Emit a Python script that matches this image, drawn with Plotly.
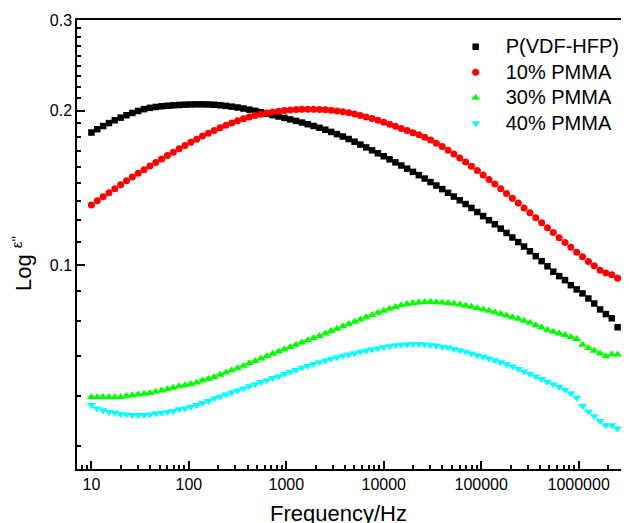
import math
import plotly.graph_objects as go

freq = [10, 11.48, 13.18, 15.14, 17.38, 19.95, 22.91, 26.30, 30.20, 34.67,
        39.81, 45.71, 52.48, 60.26, 69.18, 79.43, 91.20, 104.7, 120.2, 138.0,
        158.5, 182.0, 208.9, 239.9, 275.4, 316.2, 363.1, 416.9, 478.6, 549.5,
        631.0, 724.4, 831.8, 955.0, 1096, 1259, 1445, 1660, 1905, 2188,
        2512, 2884, 3311, 3802, 4365, 5012, 5754, 6607, 7586, 8710,
        10000, 11480, 13180, 15140, 17380, 19950, 22910, 26300, 30200, 34670,
        39810, 45710, 52480, 60260, 69180, 79430, 91200, 104700, 120200, 138000,
        158500, 182000, 208900, 239900, 275400, 316200, 363100, 416900, 478600, 549500,
        631000, 724400, 831800, 955000, 1096000, 1259000, 1445000, 1660000, 1905000, 2188000,
        2512000]

eps_pvdf = [0.1812, 0.1839, 0.1865, 0.1890, 0.1914, 0.1937, 0.1958, 0.1978, 0.1996, 0.2012,
            0.2024, 0.2032, 0.2038, 0.2043, 0.2047, 0.2050, 0.2053, 0.2055, 0.2056, 0.2056,
            0.2055, 0.2052, 0.2048, 0.2042, 0.2035, 0.2027, 0.2018, 0.2008, 0.1997, 0.1985,
            0.1972, 0.1959, 0.1947, 0.1935, 0.1922, 0.1909, 0.1895, 0.1881, 0.1866, 0.1851,
            0.1835, 0.1817, 0.1799, 0.1780, 0.1760, 0.1739, 0.1717, 0.1695, 0.1673, 0.1651,
            0.1629, 0.1607, 0.1585, 0.1563, 0.1541, 0.1519, 0.1497, 0.1474, 0.1451, 0.1429,
            0.1406, 0.1383, 0.1360, 0.1337, 0.1315, 0.1292, 0.1269, 0.1246, 0.1223, 0.1201,
            0.1178, 0.1155, 0.1132, 0.1109, 0.1087, 0.1064, 0.1041, 0.1018, 0.0995, 0.0971,
            0.0952, 0.0935, 0.0914, 0.0897, 0.0881, 0.0861, 0.0842, 0.0820, 0.0803, 0.0788,
            0.0757]

eps_10 = [0.1309, 0.1334, 0.1359, 0.1384, 0.1409, 0.1434, 0.1459, 0.1484, 0.1509, 0.1534,
          0.1559, 0.1584, 0.1609, 0.1634, 0.1659, 0.1684, 0.1709, 0.1734, 0.1759, 0.1783,
          0.1806, 0.1829, 0.1851, 0.1872, 0.1892, 0.1910, 0.1927, 0.1942, 0.1955, 0.1967,
          0.1977, 0.1986, 0.1994, 0.2000, 0.2005, 0.2009, 0.2011, 0.2012, 0.2012, 0.2010,
          0.2007, 0.2002, 0.1996, 0.1988, 0.1979, 0.1968, 0.1956, 0.1943, 0.1929, 0.1914,
          0.1898, 0.1881, 0.1863, 0.1845, 0.1828, 0.1811, 0.1794, 0.1774, 0.1752, 0.1727,
          0.1701, 0.1673, 0.1645, 0.1617, 0.1588, 0.1558, 0.1528, 0.1498, 0.1468, 0.1438,
          0.1408, 0.1379, 0.1350, 0.1321, 0.1292, 0.1264, 0.1237, 0.1209, 0.1183, 0.1157,
          0.1131, 0.1107, 0.1083, 0.1060, 0.1038, 0.1017, 0.0997, 0.0977, 0.0965, 0.0958,
          0.0943]

eps_30 = [0.0553, 0.0554, 0.0554, 0.0553, 0.0553, 0.0554, 0.0556, 0.0558, 0.0560, 0.0562,
          0.0564, 0.0567, 0.0570, 0.0573, 0.0577, 0.0581, 0.0584, 0.0587, 0.0591, 0.0596,
          0.0601, 0.0606, 0.0612, 0.0618, 0.0624, 0.0630, 0.0637, 0.0644, 0.0651, 0.0658,
          0.0665, 0.0672, 0.0679, 0.0686, 0.0693, 0.0700, 0.0707, 0.0714, 0.0721, 0.0728,
          0.0736, 0.0744, 0.0752, 0.0760, 0.0768, 0.0776, 0.0784, 0.0792, 0.0800, 0.0808,
          0.0815, 0.0822, 0.0829, 0.0835, 0.0840, 0.0844, 0.0846, 0.0848, 0.0848, 0.0847,
          0.0846, 0.0844, 0.0841, 0.0838, 0.0834, 0.0830, 0.0825, 0.0820, 0.0815, 0.0810,
          0.0804, 0.0798, 0.0792, 0.0786, 0.0779, 0.0772, 0.0764, 0.0756, 0.0748, 0.0742,
          0.0736, 0.0731, 0.0725, 0.0718, 0.0700, 0.0690, 0.0681, 0.0673, 0.0665, 0.0671,
          0.0670]

eps_40 = [0.0534, 0.0526, 0.0522, 0.0518, 0.0516, 0.0513, 0.0512, 0.0511, 0.0511, 0.0511,
          0.0512, 0.0514, 0.0516, 0.0518, 0.0520, 0.0524, 0.0526, 0.0530, 0.0534, 0.0539,
          0.0544, 0.0550, 0.0555, 0.0560, 0.0565, 0.0570, 0.0575, 0.0581, 0.0586, 0.0592,
          0.0597, 0.0603, 0.0608, 0.0614, 0.0620, 0.0625, 0.0631, 0.0636, 0.0642, 0.0647,
          0.0652, 0.0657, 0.0662, 0.0666, 0.0670, 0.0674, 0.0678, 0.0682, 0.0685, 0.0689,
          0.0692, 0.0695, 0.0698, 0.0700, 0.0701, 0.0702, 0.0702, 0.0701, 0.0699, 0.0697,
          0.0694, 0.0691, 0.0687, 0.0683, 0.0678, 0.0673, 0.0668, 0.0663, 0.0658, 0.0653,
          0.0647, 0.0641, 0.0635, 0.0628, 0.0621, 0.0614, 0.0607, 0.0600, 0.0593, 0.0586,
          0.0579, 0.0572, 0.0563, 0.0552, 0.0532, 0.0519, 0.0508, 0.0497, 0.0488, 0.0488,
          0.0481]

series_names = ["P(VDF-HFP)", "10% PMMA", "30% PMMA", "40% PMMA"]
series_values = [eps_pvdf, eps_10, eps_30, eps_40]

x_tickvals = [10, 100, 1000, 10000, 100000, 1000000]
x_ticktext = ["10", "100", "1000", "10000", "100000", "1000000"]
y_tickvals = [0.1, 0.2, 0.3]
y_ticktext = ["0.1", "0.2", "0.3"]

styles = [("square", "#000000", 6.5),
          ("circle", "#ff0000", 7),
          ("triangle-up", "#00ff00", 8),
          ("triangle-down", "#00ffff", 8)]

FONT = "Liberation Sans, Arial, Helvetica, sans-serif"

fig = go.Figure()
for name, vals, (sym, col, size) in zip(series_names, series_values, styles):
    fig.add_trace(go.Scatter(
        x=freq, y=vals, mode="markers",
        name='<span style="font-size:20px">' + name + '</span>',
        marker=dict(symbol=sym, color=col, size=size, line=dict(width=0)),
    ))

# minor tick positions
minor_x = [8, 9]
for dec in [10, 100, 1000, 10000, 100000]:
    minor_x += [m * dec for m in range(2, 10)]
minor_x += [2000000]
minor_y = [0.1 - k / 90 for k in range(1, 6)]
minor_y += [0.1 + k / 90 for k in range(1, 9)]
minor_y += [0.2 + k / 90 for k in range(1, 9)]

axis_common = dict(
    showline=True, linecolor="black", linewidth=1.5, mirror=True,
    showgrid=False, zeroline=False,
    ticks="inside", ticklen=8, tickwidth=1.5, tickcolor="black",
    tickfont=dict(family=FONT, size=16, color="black"),
)

fig.update_xaxes(
    type="log", range=[0.852, 6.486],
    tickmode="array", tickvals=x_tickvals, ticktext=x_ticktext,
    minor=dict(tickmode="array", tickvals=minor_x, ticks="inside",
               ticklen=4, tickwidth=1.5, tickcolor="black"),
    **axis_common,
)
fig.update_yaxes(
    type="log", range=[math.log10(0.0401), -0.5228],
    tickmode="array", tickvals=y_tickvals, ticktext=y_ticktext,
    minor=dict(tickmode="array", tickvals=minor_y, ticks="inside",
               ticklen=4, tickwidth=1.5, tickcolor="black"),
    **axis_common,
)

# the page body has an 8px margin, so the figure is sized to fit the window
fig.update_layout(
    width=621, height=515,
    margin=dict(l=69, r=1, t=12, b=54, pad=0),
    paper_bgcolor="white", plot_bgcolor="white",
    font=dict(family=FONT, color="black"),
    showlegend=True,
    legend=dict(x=0.6715, y=0.98, xanchor="left", yanchor="top",
                bgcolor="rgba(0,0,0,0)", font=dict(family=FONT, size=17.3, color="black"),
                tracegroupgap=0, itemwidth=50),
    annotations=[
        dict(text="Frequency/Hz", xref="paper", yref="paper", x=0.4755, y=-0.098,
             xanchor="center", yanchor="middle", showarrow=False,
             font=dict(family=FONT, size=22, color="black")),
        dict(text="Log <sup>ε\"</sup>", xref="paper", yref="paper", x=-0.10, y=0.4566,
             xanchor="center", yanchor="middle", textangle=-90, showarrow=False,
             font=dict(family=FONT, size=22, color="black")),
    ],
)

fig.write_html("out.html")
